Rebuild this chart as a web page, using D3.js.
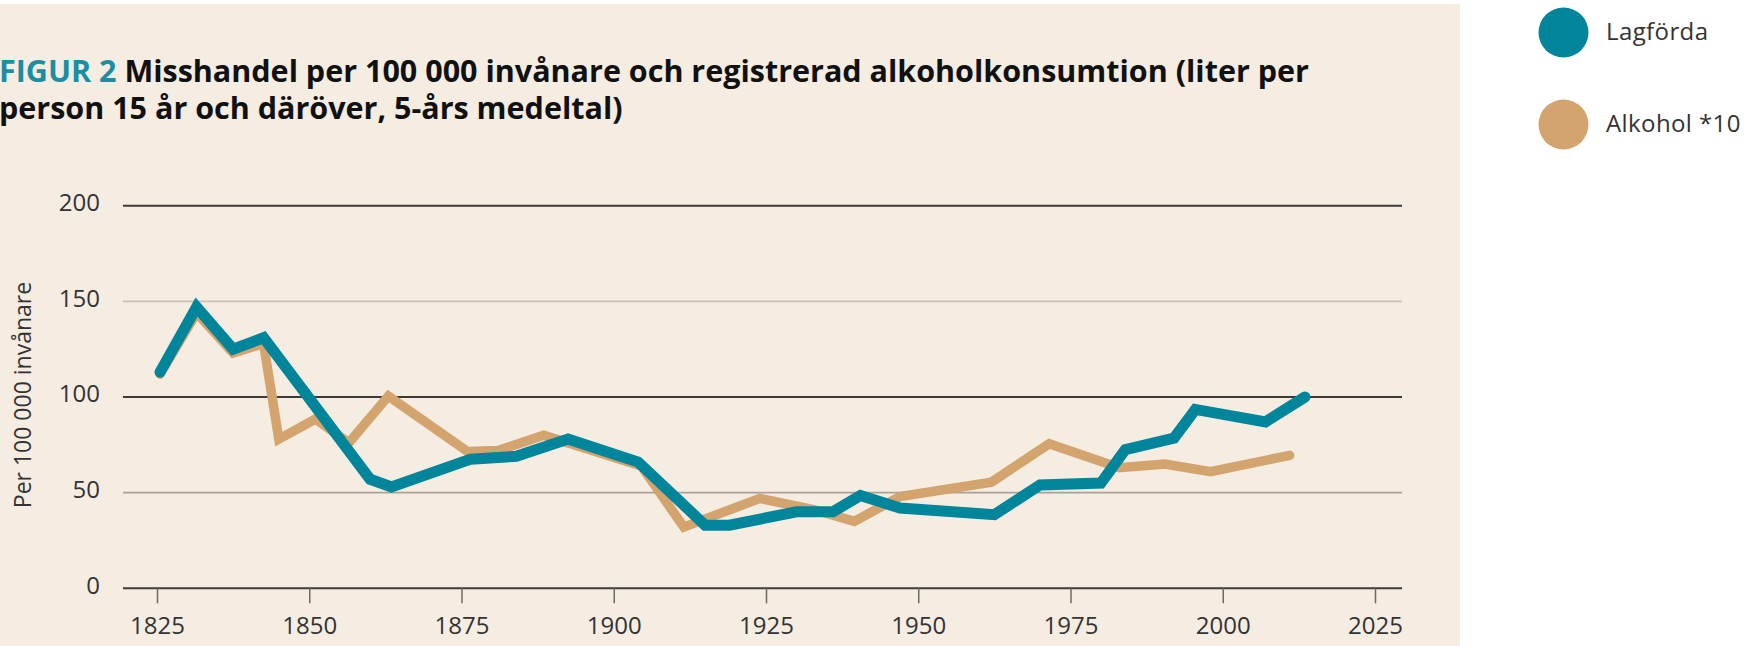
<!DOCTYPE html>
<html>
<head>
<meta charset="utf-8">
<script src="https://cdn.jsdelivr.net/npm/d3@7"></script>
<style>
  html, body { margin: 0; padding: 0; background: #fff; }
  svg { display: block; font-family: "Open Sans", Lato, sans-serif; }
</style>
</head>
<body>
<svg id="chart" width="1760" height="646"></svg>
<script>
// Lagförda (per 100 000 invånare)
const lagfordaYears = [1825.5, 1831.5, 1837.5, 1842.5, 1860, 1863.5, 1876.5, 1884, 1892.5, 1904, 1915, 1919, 1930, 1936, 1940.5, 1947, 1962.5, 1970, 1980, 1984, 1992, 1995.5, 2007, 2013.5];
const lagfordaValues = [113, 147, 125, 131, 57, 53, 67.5, 69, 78, 66, 33, 33, 40, 40, 48.5, 42, 38.5, 54, 55, 72.5, 78.5, 93.5, 87, 100];

// Alkohol *10 (liter per person 15 år och däröver)
const alkoholYears = [1825.5, 1831.5, 1837.5, 1842.5, 1845, 1851, 1856.5, 1863, 1876, 1881, 1888.5, 1904.5, 1911.5, 1924, 1933, 1939.5, 1947, 1962, 1971.5, 1983, 1990.5, 1998, 2011];
const alkoholValues = [112, 144, 123, 128, 78, 88.5, 76, 100.5, 71.5, 72, 80, 64, 32, 47, 41, 35, 48, 55.5, 75.5, 63, 65, 61, 69.5];

const xTicks = [1825, 1850, 1875, 1900, 1925, 1950, 1975, 2000, 2025];
const yTicks = [0, 50, 100, 150, 200];

const teal = "#00859a";
const tan = "#d4a46e";

const svg = d3.select("#chart");

// beige panel
svg.append("rect")
    .attr("x", 0).attr("y", 4)
    .attr("width", 1460).attr("height", 642)
    .attr("fill", "#f5ece2");

const x = d3.scaleLinear().domain([1825, 2025]).range([157, 1375]);
const y = d3.scaleLinear().domain([0, 200]).range([588.3, 205.7]);
const left = 123, right = 1402;

// Title
const title = svg.append("text")
    .attr("x", -1).attr("y", 82)
    .attr("font-size", 30.5)
    .attr("font-weight", 700)
    .attr("fill", "#111");
title.append("tspan").attr("fill", "#1a8ea3").text("FIGUR 2 ");
title.append("tspan").text("Misshandel per 100 000 invånare och registrerad alkoholkonsumtion (liter per");
svg.append("text")
    .attr("x", -1).attr("y", 119)
    .attr("font-size", 30.5)
    .attr("font-weight", 700)
    .attr("fill", "#111")
    .text("person 15 år och däröver, 5-års medeltal)");

// Gridlines
svg.append("g")
    .selectAll("line")
    .data(yTicks)
    .join("line")
    .attr("x1", left).attr("x2", right)
    .attr("y1", d => y(d)).attr("y2", d => y(d))
    .attr("stroke", d => d === 150 ? "#cbc0b6" : d === 50 ? "#aaa29a" : "#3d3a38")
    .attr("stroke-width", d => d % 100 === 0 ? 2 : 1.6);

// Y axis labels
const yAxis = svg.append("g")
    .attr("transform", `translate(100,0)`)
    .call(d3.axisLeft(y).tickValues(yTicks).tickSize(0).tickPadding(0));
yAxis.select(".domain").remove();
yAxis.selectAll("text")
    .attr("font-family", "'Open Sans', sans-serif")
    .attr("font-size", 24)
    .attr("fill", "#333")
    .attr("dy", "0.2em");

// X axis
const xAxis = svg.append("g")
    .attr("transform", `translate(0,${y(0)})`)
    .call(d3.axisBottom(x).tickValues(xTicks).tickFormat(d3.format("d")).tickSize(15).tickPadding(14));
xAxis.select(".domain").remove();
xAxis.selectAll("line").attr("stroke", "#6f6a66").attr("stroke-width", 1.5);
xAxis.selectAll("text")
    .attr("font-family", "'Open Sans', sans-serif")
    .attr("font-size", 24)
    .attr("fill", "#333");

// Y axis title
svg.append("text")
    .attr("transform", "translate(31,395) rotate(-90)")
    .attr("text-anchor", "middle")
    .attr("font-size", 23)
    .attr("fill", "#333")
    .text("Per 100 000 invånare");

// Lines
const line = d3.line().x(d => x(d[0])).y(d => y(d[1]));

svg.append("path")
    .datum(d3.zip(alkoholYears, alkoholValues))
    .attr("d", line)
    .attr("fill", "none")
    .attr("stroke", tan)
    .attr("stroke-width", 9.5)
    .attr("stroke-linejoin", "miter")
    .attr("stroke-linecap", "round");

svg.append("path")
    .datum(d3.zip(lagfordaYears, lagfordaValues))
    .attr("d", line)
    .attr("fill", "none")
    .attr("stroke", teal)
    .attr("stroke-width", 11)
    .attr("stroke-linejoin", "miter")
    .attr("stroke-linecap", "round");

// Legend
const legendItems = [
    { label: "Lagförda", color: teal, cy: 32.5 },
    { label: "Alkohol *10", color: tan, cy: 124.5 }
];
const legend = svg.append("g")
    .selectAll("g")
    .data(legendItems)
    .join("g");
legend.append("circle")
    .attr("cx", 1563.5).attr("cy", d => d.cy)
    .attr("r", 25)
    .attr("fill", d => d.color);
legend.append("text")
    .attr("x", 1606).attr("y", d => d.cy + 7.5)
    .attr("font-size", 24)
    .attr("letter-spacing", 0.4)
    .attr("fill", "#333")
    .text(d => d.label);
</script>
</body>
</html>
